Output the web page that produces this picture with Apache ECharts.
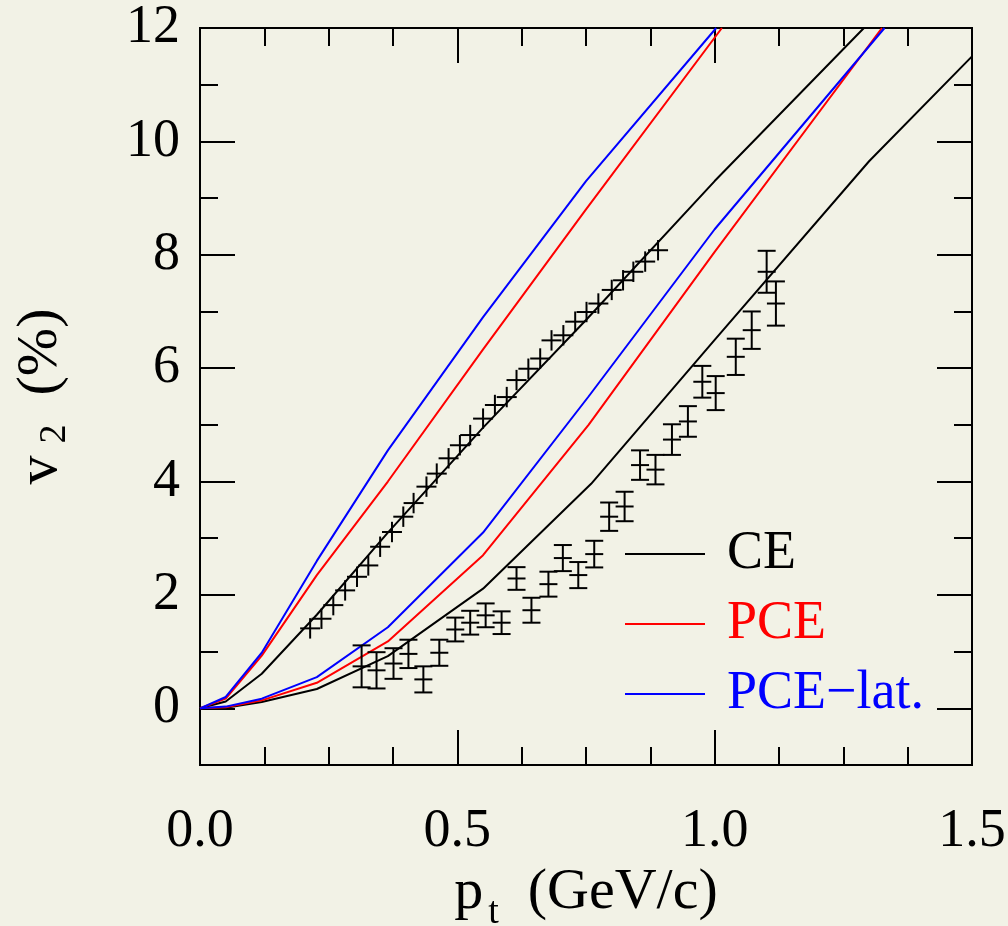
<!DOCTYPE html>
<html>
<head>
<meta charset="utf-8">
<script src="https://cdn.jsdelivr.net/npm/echarts@6/dist/echarts.min.js"></script>
<style>
html,body{margin:0;padding:0;background:#f2f2e6;}
#c{width:1008px;height:926px;}
</style>
</head>
<body>
<div id="c"></div>
<script>
// ---- data ----
const xMajorTicks = [0, 0.5, 1.0, 1.5];
const xMinorTicks = [0.125, 0.25, 0.375, 0.625, 0.75, 0.875, 1.125, 1.25, 1.375];
const yMajorTicks = [0, 2, 4, 6, 8, 10, 12];
const yMinorTicks = [1, 3, 5, 7, 9, 11];

// theory curves [pt, v2]
const ceUpper = [[0,0],[0.05,0.12],[0.12,0.61],[0.227,1.65],[0.365,3.1],[0.55,4.95],[0.75,6.85],[1.0,9.3],[1.29,12]];
const pceUpper = [[0,0],[0.05,0.17],[0.12,0.93],[0.227,2.35],[0.365,4.0],[0.55,6.33],[0.75,8.8],[1.014,12]];
const latUpper = [[0,0],[0.05,0.2],[0.12,0.98],[0.227,2.6],[0.365,4.55],[0.55,6.9],[0.75,9.3],[1.003,12]];
const ceLower = [[0,0],[0.05,0.01],[0.12,0.11],[0.227,0.34],[0.365,0.92],[0.55,2.11],[0.76,3.96],[1.0,6.5],[1.3,9.65],[1.5,11.5]];
const pceLower = [[0,0],[0.05,0.02],[0.12,0.14],[0.227,0.45],[0.365,1.18],[0.55,2.7],[0.755,5.0],[1.0,8.05],[1.325,12]];
const latLower = [[0,0],[0.05,0.03],[0.12,0.17],[0.227,0.55],[0.365,1.43],[0.55,3.1],[0.755,5.5],[1.0,8.45],[1.33,12]];

// measured data [pt, v2, err]
const dataUpper = [
 [0.214,1.41,0.18],[0.236,1.58,0.18],[0.259,1.82,0.18],[0.282,2.08,0.18],[0.305,2.32,0.18],
 [0.327,2.52,0.18],[0.350,2.85,0.18],[0.373,3.11,0.18],[0.395,3.38,0.18],[0.415,3.62,0.18],
 [0.440,3.91,0.18],[0.460,4.14,0.18],[0.483,4.41,0.18],[0.505,4.64,0.18],[0.525,4.82,0.18],
 [0.550,5.11,0.18],[0.573,5.35,0.18],[0.596,5.49,0.18],[0.615,5.79,0.18],[0.638,5.99,0.18],
 [0.661,6.17,0.18],[0.683,6.49,0.18],[0.706,6.58,0.18],[0.729,6.82,0.18],[0.751,6.99,0.18],
 [0.774,7.14,0.18],[0.800,7.38,0.18],[0.822,7.55,0.18],[0.842,7.70,0.18],[0.865,7.88,0.18],
 [0.890,8.08,0.18]
];
const dataLower = [
 [0.314,0.74,0.37],[0.343,0.67,0.32],[0.376,0.79,0.27],[0.405,0.96,0.25],[0.434,0.51,0.23],
 [0.465,0.98,0.23],[0.496,1.39,0.21],[0.525,1.51,0.21],[0.555,1.64,0.21],[0.586,1.51,0.20],
 [0.615,2.29,0.20],[0.644,1.73,0.22],[0.677,2.19,0.22],[0.705,2.65,0.23],[0.735,2.35,0.23],
 [0.766,2.72,0.235],[0.795,3.38,0.25],[0.825,3.56,0.26],[0.855,4.29,0.26],[0.885,4.21,0.26],
 [0.917,4.74,0.27],[0.948,5.06,0.27],[0.976,5.76,0.28],[1.002,5.56,0.30],[1.041,6.20,0.32],
 [1.072,6.67,0.33],[1.101,7.70,0.37],[1.119,7.14,0.39]
];
const legendNames = ['CE', 'PCE', 'PCE\u2212lat.'];
const colors = { 'CE': '#000000', 'PCE': '#ff0000', 'PCE\u2212lat.': '#0000ff' };

// ---- chart ----
const FONT = 'Liberation Serif';
const FS = 54;
const TFS = 58;
const chart = echarts.init(document.getElementById('c'), null, { renderer: 'canvas' });

function axisX(pos, ticks, len, labels) {
  return {
    type: 'value', position: pos, min: 0, max: 1.5, interval: 0.5,
    axisLine: { show: true, onZero: false, lineStyle: { color: '#000', width: 2 } },
    axisTick: { show: true, inside: true, length: len, customValues: ticks, lineStyle: { color: '#000', width: 2 } },
    axisLabel: labels ? { show: true, customValues: xMajorTicks, formatter: v => v.toFixed(1), fontFamily: FONT, fontSize: FS, color: '#000', margin: 40 } : { show: false },
    splitLine: { show: false }
  };
}
function axisY(pos, ticks, len, labels) {
  return {
    type: 'value', position: pos, min: -1, max: 12,
    axisLine: { show: true, onZero: false, lineStyle: { color: '#000', width: 2 } },
    axisTick: { show: true, inside: true, length: len, customValues: ticks, lineStyle: { color: '#000', width: 2 } },
    axisLabel: labels ? { show: true, customValues: yMajorTicks, fontFamily: FONT, fontSize: FS, color: '#000', margin: 20 } : { show: false },
    splitLine: { show: false }
  };
}

const xAxes = [axisX('bottom', xMajorTicks, 35, true), axisX('bottom', xMinorTicks, 18, false), axisX('top', xMajorTicks, 35, false), axisX('top', xMinorTicks, 18, false)];
xAxes[0].name = '{a|p}{s|t}{a|  (GeV/c)}';
xAxes[0].nameLocation = 'middle';
xAxes[0].nameGap = 92;
xAxes[0].nameTextStyle = {
  fontFamily: FONT, color: '#000',
  rich: {
    a: { fontFamily: FONT, fontSize: TFS, lineHeight: 60, verticalAlign: 'top', color: '#000' },
    s: { fontFamily: FONT, fontSize: 38, lineHeight: 40, verticalAlign: 'top', color: '#000', padding: [30, 0, 0, 5] }
  }
};
const yAxes = [axisY('left', yMajorTicks, 35, true), axisY('left', yMinorTicks, 18, false), axisY('right', yMajorTicks, 35, false), axisY('right', yMinorTicks, 18, false)];
yAxes[0].name = '{a|v}{s|2}{a|  (%)}';
yAxes[0].nameLocation = 'middle';
yAxes[0].nameRotate = 90;
yAxes[0].nameGap = 128;
yAxes[0].nameTextStyle = {
  fontFamily: FONT, color: '#000',
  rich: {
    a: { fontFamily: FONT, fontSize: TFS, lineHeight: 60, verticalAlign: 'top', color: '#000' },
    s: { fontFamily: FONT, fontSize: 38, lineHeight: 40, verticalAlign: 'top', color: '#000', padding: [24, 0, 0, 12] }
  }
};

function lineSeries(name, data) {
  return { name: name, type: 'line', data: data, xAxisIndex: 0, yAxisIndex: 0, symbol: 'none', showSymbol: false,
    lineStyle: { color: colors[name], width: 2 }, itemStyle: { color: colors[name] }, clip: true, silent: true, z: 3, animation: false };
}
function errSeries(data, caps) {
  return {
    type: 'custom', xAxisIndex: 0, yAxisIndex: 0, data: data, z: 4, animation: false, silent: true,
    renderItem: function (params, api) {
      const x = api.value(0), y = api.value(1), e = api.value(2);
      const c = api.coord([x, y]), t = api.coord([x, y + e]), b = api.coord([x, y - e]);
      const hw = caps ? 9 : 10;
      const st = { stroke: '#000', lineWidth: 2, fill: null };
      const ch = [
        { type: 'line', shape: { x1: c[0], y1: t[1], x2: c[0], y2: b[1] }, style: st },
        { type: 'line', shape: { x1: c[0] - hw, y1: c[1], x2: c[0] + hw, y2: c[1] }, style: st }
      ];
      if (caps) {
        ch.push({ type: 'line', shape: { x1: c[0] - hw, y1: t[1], x2: c[0] + hw, y2: t[1] }, style: st });
        ch.push({ type: 'line', shape: { x1: c[0] - hw, y1: b[1], x2: c[0] + hw, y2: b[1] }, style: st });
      }
      return { type: 'group', children: ch };
    }
  };
}

chart.setOption({
  backgroundColor: '#f2f2e6',
  animation: false,
  grid: { left: 200, right: 36, top: 28, bottom: 161, containLabel: false, outerBoundsMode: 'none' },
  xAxis: xAxes,
  yAxis: yAxes,
  legend: {
    orient: 'vertical', left: 625, top: 527, padding: 0, itemGap: 16,
    itemWidth: 80, itemHeight: 2, icon: 'rect',
    data: legendNames.map(n => ({ name: n, textStyle: { color: colors[n] } })),
    textStyle: { fontFamily: FONT, fontSize: FS, lineHeight: 51, padding: [0, 0, 0, 17] },
    selectedMode: false
  },
  series: [
    lineSeries('CE', ceUpper), lineSeries('PCE', pceUpper), lineSeries('PCE\u2212lat.', latUpper),
    lineSeries('CE', ceLower), lineSeries('PCE', pceLower), lineSeries('PCE\u2212lat.', latLower),
    errSeries(dataUpper, false), errSeries(dataLower, true)
  ]
});
</script>
</body>
</html>
